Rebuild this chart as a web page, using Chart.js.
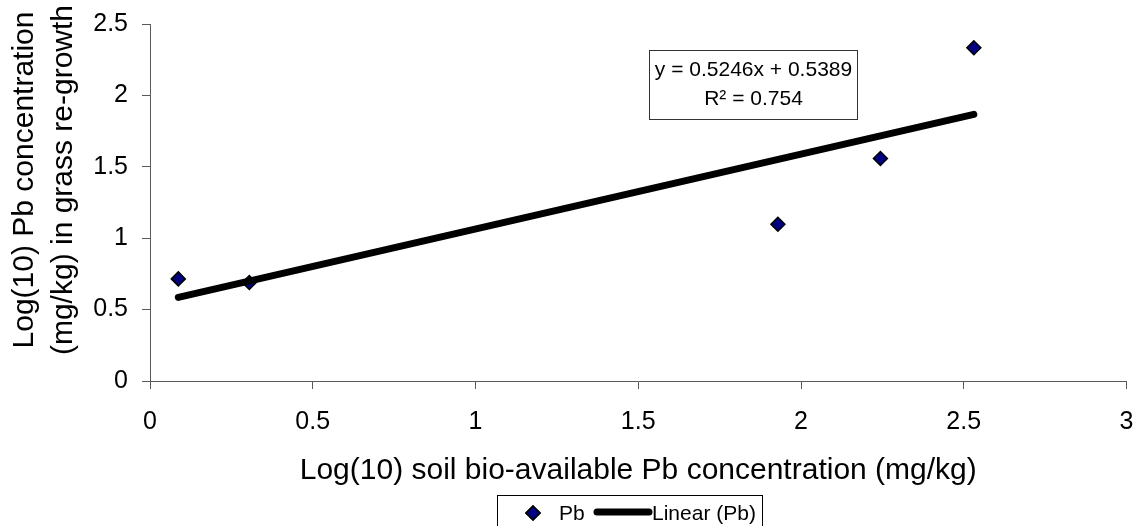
<!DOCTYPE html>
<html>
<head>
<meta charset="utf-8">
<script src="https://cdn.jsdelivr.net/npm/chart.js@4.4.1/dist/chart.umd.min.js"></script>
<style>
  html, body { margin: 0; padding: 0; background: #fff; }
  #wrap { width: 1135px; height: 526px; position: relative; }
</style>
</head>
<body>
<div id="wrap"><canvas id="c"></canvas></div>
<script>
// ---- data ----
const pbX = [0.087, 0.305, 1.929, 2.244, 2.531];
const pbY = [0.715, 0.690, 1.098, 1.558, 2.334];
const trendX = [0.087, 2.531];
const trendY = [0.585, 1.867];
const xTicks = [0, 0.5, 1, 1.5, 2, 2.5, 3];
const yTicks = [0, 0.5, 1, 1.5, 2, 2.5];
const seriesName = 'Pb';
const trendName = 'Linear (Pb)';
const equationText = 'y = 0.5246x + 0.5389';
const r2Text = 'R\u00B2 = 0.754';
const xTitle = 'Log(10) soil bio-available Pb concentration (mg/kg)';
const yTitle = ['Log(10) Pb concentration', '(mg/kg) in grass re-growth'];

const FONT = 'Arial, "Liberation Sans", sans-serif';
const AXIS_COLOR = '#595959';
const MARKER_FILL = '#000080';

const pbData = pbX.map((x, i) => ({ x, y: pbY[i] }));
const trendData = trendX.map((x, i) => ({ x, y: trendY[i] }));

const overlay = {
  id: 'overlay',
  afterDraw(chart) {
    const ctx = chart.ctx;
    const ca = chart.chartArea;
    ctx.save();
    ctx.fillStyle = '#000';
    // x axis title
    ctx.font = '30px ' + FONT;
    ctx.textAlign = 'center';
    ctx.textBaseline = 'alphabetic';
    ctx.fillText(xTitle, (ca.left + ca.right) / 2, 479);
    // y axis title (two lines, rotated)
    ctx.save();
    ctx.translate(0, 180);
    ctx.rotate(-Math.PI / 2);
    ctx.fillText(yTitle[0], 0, 33);
    ctx.fillText(yTitle[1], 0, 72);
    ctx.restore();

    // equation box
    ctx.fillStyle = '#fff';
    ctx.fillRect(649.5, 50.5, 208, 69);
    ctx.strokeStyle = '#333';
    ctx.lineWidth = 1;
    ctx.strokeRect(649.5, 50.5, 208, 69);
    ctx.fillStyle = '#000';
    ctx.font = '21px ' + FONT;
    ctx.textAlign = 'center';
    ctx.textBaseline = 'middle';
    ctx.fillText(equationText, 753.5, 70);
    ctx.fillText(r2Text, 753.5, 99);

    // legend
    ctx.strokeStyle = '#000';
    ctx.lineWidth = 1;
    ctx.strokeRect(497.5, 495.5, 265, 40);
    const ds0 = chart.data.datasets[0];
    const ds1 = chart.data.datasets[1];
    // marker sample
    ctx.fillStyle = ds0.backgroundColor;
    ctx.strokeStyle = ds0.borderColor;
    ctx.lineWidth = ds0.borderWidth;
    Chart.helpers.drawPoint(ctx, { pointStyle: 'rectRot', radius: 7, rotation: 0, borderWidth: ds0.borderWidth }, 533, 513);
    ctx.fill(); ctx.stroke();
    ctx.fillStyle = '#000';
    ctx.font = '21px ' + FONT;
    ctx.textAlign = 'left';
    ctx.textBaseline = 'middle';
    ctx.fillText(ds0.label, 559, 514);
    // line sample
    ctx.strokeStyle = ds1.borderColor;
    ctx.lineWidth = ds1.borderWidth;
    ctx.lineCap = 'round';
    ctx.beginPath();
    ctx.moveTo(597, 512); ctx.lineTo(649, 512);
    ctx.stroke();
    ctx.fillText(ds1.label, 652, 514);
    ctx.restore();
  }
};

new Chart(document.getElementById('c'), {
  type: 'scatter',
  data: {
    datasets: [
      {
        label: seriesName,
        data: pbData,
        pointStyle: 'rectRot',
        pointRadius: 7,
        pointHoverRadius: 7,
        backgroundColor: MARKER_FILL,
        borderColor: '#000',
        borderWidth: 1.5,
        showLine: false,
        order: 2
      },
      {
        label: trendName,
        type: 'line',
        data: trendData,
        borderColor: '#000',
        borderWidth: 7,
        borderCapStyle: 'round',
        pointRadius: 0,
        fill: false,
        order: 1
      }
    ]
  },
  plugins: [overlay],
  options: {
    responsive: true,
    maintainAspectRatio: false,
    animation: false,
    devicePixelRatio: 1,
    layout: { padding: { top: 24, right: 8, left: 0, bottom: 0 } },
    plugins: {
      legend: { display: false },
      tooltip: { enabled: false }
    },
    scales: {
      x: {
        type: 'linear',
        min: 0, max: 3,
        afterFit(s) { s.height = 145; s.paddingLeft = 0; s.paddingRight = 0; },
        afterBuildTicks(s) { s.ticks = xTicks.map(v => ({ value: v })); },
        ticks: {
          color: '#000',
          font: { family: FONT, size: 25 },
          padding: 18,
          callback: v => String(v)
        },
        grid: { drawOnChartArea: false, drawTicks: true, tickLength: 8, color: AXIS_COLOR },
        border: { display: true, color: AXIS_COLOR, width: 1 }
      },
      y: {
        type: 'linear',
        min: 0, max: 2.5,
        afterFit(s) { s.width = 150; s.paddingTop = 0; s.paddingBottom = 0; },
        afterBuildTicks(s) { s.ticks = yTicks.map(v => ({ value: v })); },
        ticks: {
          color: '#000',
          font: { family: FONT, size: 25 },
          padding: 14,
          callback: v => String(v)
        },
        grid: { drawOnChartArea: false, drawTicks: true, tickLength: 8, color: AXIS_COLOR },
        border: { display: true, color: AXIS_COLOR, width: 1 }
      }
    }
  }
});
</script>
</body>
</html>
